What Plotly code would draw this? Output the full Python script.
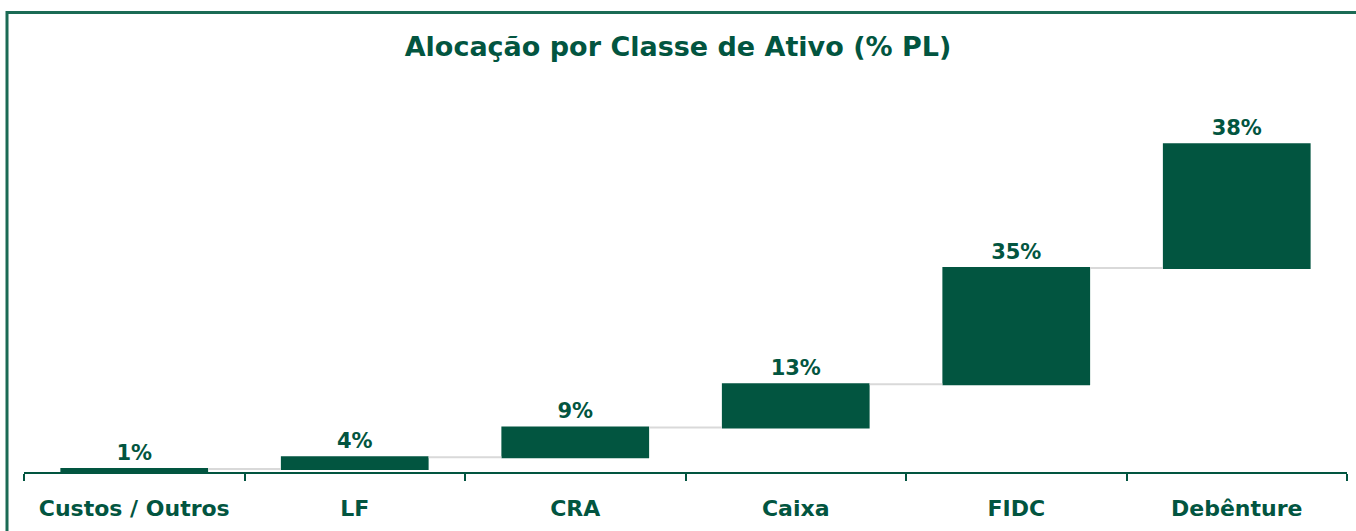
import plotly.graph_objects as go

categories = ["Custos / Outros", "LF", "CRA", "Caixa", "FIDC", "Debênture"]
values = [0.9, 3.6, 9.1, 13.2, 35.4, 37.8]
labels = [f"{v:.0f}%" for v in values]

GREEN = "#025540"
FONT = "DejaVu Sans, sans-serif"

fig = go.Figure(go.Waterfall(
    x=categories,
    y=values,
    measure=["relative"] * len(values),
    text=labels,
    texttemplate="<b>%{text}</b>",
    textposition="outside",
    textfont=dict(family=FONT, size=21, color=GREEN),
    increasing=dict(marker=dict(color=GREEN)),
    connector=dict(line=dict(color="#d9d9d9", width=2)),
    cliponaxis=False,
    hoverinfo="skip",
))

W, H = 1356, 531
ml, mr, mt, mb = 24, 9, 95, 59
pw, ph = W - ml - mr, H - mt - mb

def px_x(x):
    return (x - ml) / pw

def px_y(y):
    return (H - mb - y) / ph

fig.update_layout(
    width=W, height=H,
    margin=dict(l=ml, r=mr, t=mt, b=mb),
    paper_bgcolor="white",
    plot_bgcolor="white",
    showlegend=False,
    waterfallgap=0.33,
    title=dict(text="<b>Alocação por Classe de Ativo (% PL)</b>",
               x=0.5, xanchor="center", y=1 - 47 / H, yanchor="middle",
               font=dict(family=FONT, size=27, color=GREEN)),
    font=dict(family=FONT, color=GREEN),
    xaxis=dict(showline=True, linecolor=GREEN, linewidth=2,
               ticks="outside", tickson="boundaries", ticklen=7,
               tickcolor=GREEN, tickwidth=2,
               tickfont=dict(family=FONT, size=22, color=GREEN),
               tickprefix="<b>", ticksuffix="</b>",
               ticklabelstandoff=16,
               showgrid=False, fixedrange=True, automargin=False),
    yaxis=dict(range=[0, 115], visible=False, showgrid=False, fixedrange=True),
    shapes=[dict(type="path", xref="paper", yref="paper",
                 path=f"M {px_x(7)} {px_y(H + 5)} L {px_x(7)} {px_y(12.5)} L {px_x(W + 5)} {px_y(12.5)}",
                 line=dict(color="#1b6b55", width=3), layer="above")],
)

fig.write_html("out.html", config={"displayModeBar": False},
               post_script="document.body.style.margin='0';")
